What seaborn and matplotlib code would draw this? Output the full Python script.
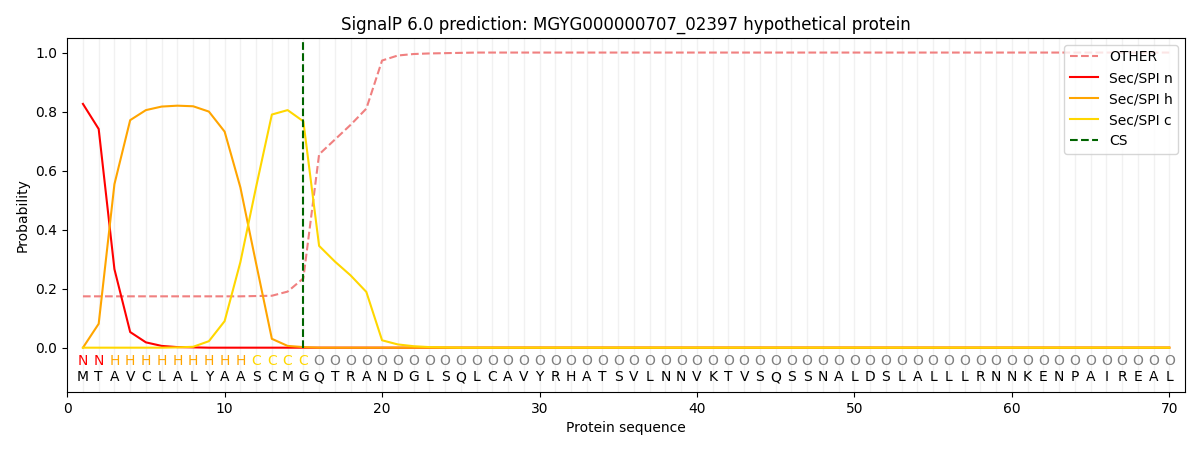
import matplotlib
matplotlib.use("Agg")
import matplotlib.pyplot as plt
import seaborn as sns
import pandas as pd

title = "SignalP 6.0 prediction: MGYG000000707_02397 hypothetical protein"

sequence = list("MTAVCLALYAASCMGQTRANDGLSQLCAVYRHATSVLNNVKTVSQSSNALDSLALLLRNNKENPAIREAL")
region = list("NNHHHHHHHHHCCCC" + "O" * 55)
positions = list(range(1, len(sequence) + 1))
cs_pos = 15

other = [0.174, 0.174, 0.174, 0.174, 0.174, 0.174, 0.174, 0.174, 0.174, 0.174,
         0.174, 0.175, 0.176, 0.19, 0.235, 0.655, 0.705, 0.755, 0.81, 0.973,
         0.99, 0.995, 0.997, 0.998, 0.999, 1.0, 1.0, 1.0, 1.0, 1.0,
         1.0, 1.0, 1.0, 1.0, 1.0, 1.0, 1.0, 1.0, 1.0, 1.0,
         1.0, 1.0, 1.0, 1.0, 1.0, 1.0, 1.0, 1.0, 1.0, 1.0,
         1.0, 1.0, 1.0, 1.0, 1.0, 1.0, 1.0, 1.0, 1.0, 1.0,
         1.0, 1.0, 1.0, 1.0, 1.0, 1.0, 1.0, 1.0, 1.0, 1.0]
sec_n = [0.826, 0.741, 0.266, 0.053, 0.018, 0.006, 0.002, 0.001, 0.0, 0.0,
         0.0, 0.0, 0.0, 0.0, 0.0, 0.0, 0.0, 0.0, 0.0, 0.0,
         0.0, 0.0, 0.0, 0.0, 0.0, 0.0, 0.0, 0.0, 0.0, 0.0,
         0.0, 0.0, 0.0, 0.0, 0.0, 0.0, 0.0, 0.0, 0.0, 0.0,
         0.0, 0.0, 0.0, 0.0, 0.0, 0.0, 0.0, 0.0, 0.0, 0.0,
         0.0, 0.0, 0.0, 0.0, 0.0, 0.0, 0.0, 0.0, 0.0, 0.0,
         0.0, 0.0, 0.0, 0.0, 0.0, 0.0, 0.0, 0.0, 0.0, 0.0]
sec_h = [0.0, 0.081, 0.554, 0.771, 0.805, 0.817, 0.82, 0.818, 0.80, 0.732,
         0.543, 0.285, 0.03, 0.006, 0.002, 0.0, 0.0, 0.0, 0.0, 0.0,
         0.0, 0.0, 0.0, 0.0, 0.0, 0.0, 0.0, 0.0, 0.0, 0.0,
         0.0, 0.0, 0.0, 0.0, 0.0, 0.0, 0.0, 0.0, 0.0, 0.0,
         0.0, 0.0, 0.0, 0.0, 0.0, 0.0, 0.0, 0.0, 0.0, 0.0,
         0.0, 0.0, 0.0, 0.0, 0.0, 0.0, 0.0, 0.0, 0.0, 0.0,
         0.0, 0.0, 0.0, 0.0, 0.0, 0.0, 0.0, 0.0, 0.0, 0.0]
sec_c = [0.0, 0.0, 0.0, 0.0, 0.0, 0.0, 0.001, 0.003, 0.022, 0.09,
         0.29, 0.545, 0.79, 0.805, 0.767, 0.345, 0.292, 0.245, 0.189, 0.025,
         0.011, 0.005, 0.002, 0.001, 0.0, 0.0, 0.0, 0.0, 0.0, 0.0,
         0.0, 0.0, 0.0, 0.0, 0.0, 0.0, 0.0, 0.0, 0.0, 0.0,
         0.0, 0.0, 0.0, 0.0, 0.0, 0.0, 0.0, 0.0, 0.0, 0.0,
         0.0, 0.0, 0.0, 0.0, 0.0, 0.0, 0.0, 0.0, 0.0, 0.0,
         0.0, 0.0, 0.0, 0.0, 0.0, 0.0, 0.0, 0.0, 0.0, 0.0]

region_colors = {"N": "red", "H": "orange", "C": "gold", "O": "gray"}

df = pd.DataFrame({
    "pos": positions,
    "OTHER": other,
    "Sec/SPI n": sec_n,
    "Sec/SPI h": sec_h,
    "Sec/SPI c": sec_c,
})

fig, ax = plt.subplots(figsize=(12, 4.5), dpi=100)

for p in positions:
    ax.axvline(p, color="lightgray", alpha=0.3, lw=1, zorder=0)

sns.lineplot(data=df, x="pos", y="OTHER", ax=ax, color="lightcoral",
             linestyle="--", label="OTHER")
sns.lineplot(data=df, x="pos", y="Sec/SPI n", ax=ax, color="red", label="Sec/SPI n")
sns.lineplot(data=df, x="pos", y="Sec/SPI h", ax=ax, color="orange", label="Sec/SPI h")
sns.lineplot(data=df, x="pos", y="Sec/SPI c", ax=ax, color="gold", label="Sec/SPI c")
ax.vlines(cs_pos, 0, 1.04, colors="darkgreen", linestyles="--", label="CS")

for p, aa, reg in zip(positions, sequence, region):
    ax.text(p, -0.045, reg, ha="center", va="center", fontsize=10,
            color=region_colors[reg])
    ax.text(p, -0.1, aa, ha="center", va="center", fontsize=10, color="black")

ax.set_xlim(0, len(sequence) + 1)
ax.set_ylim(-0.15, 1.05)
ax.set_title(title)
ax.set_xlabel("Protein sequence")
ax.set_ylabel("Probability")
ax.legend(loc="upper right")

fig.subplots_adjust(left=0.056, right=0.9875, top=0.916, bottom=0.129)
fig.savefig("out.png", dpi=100)
